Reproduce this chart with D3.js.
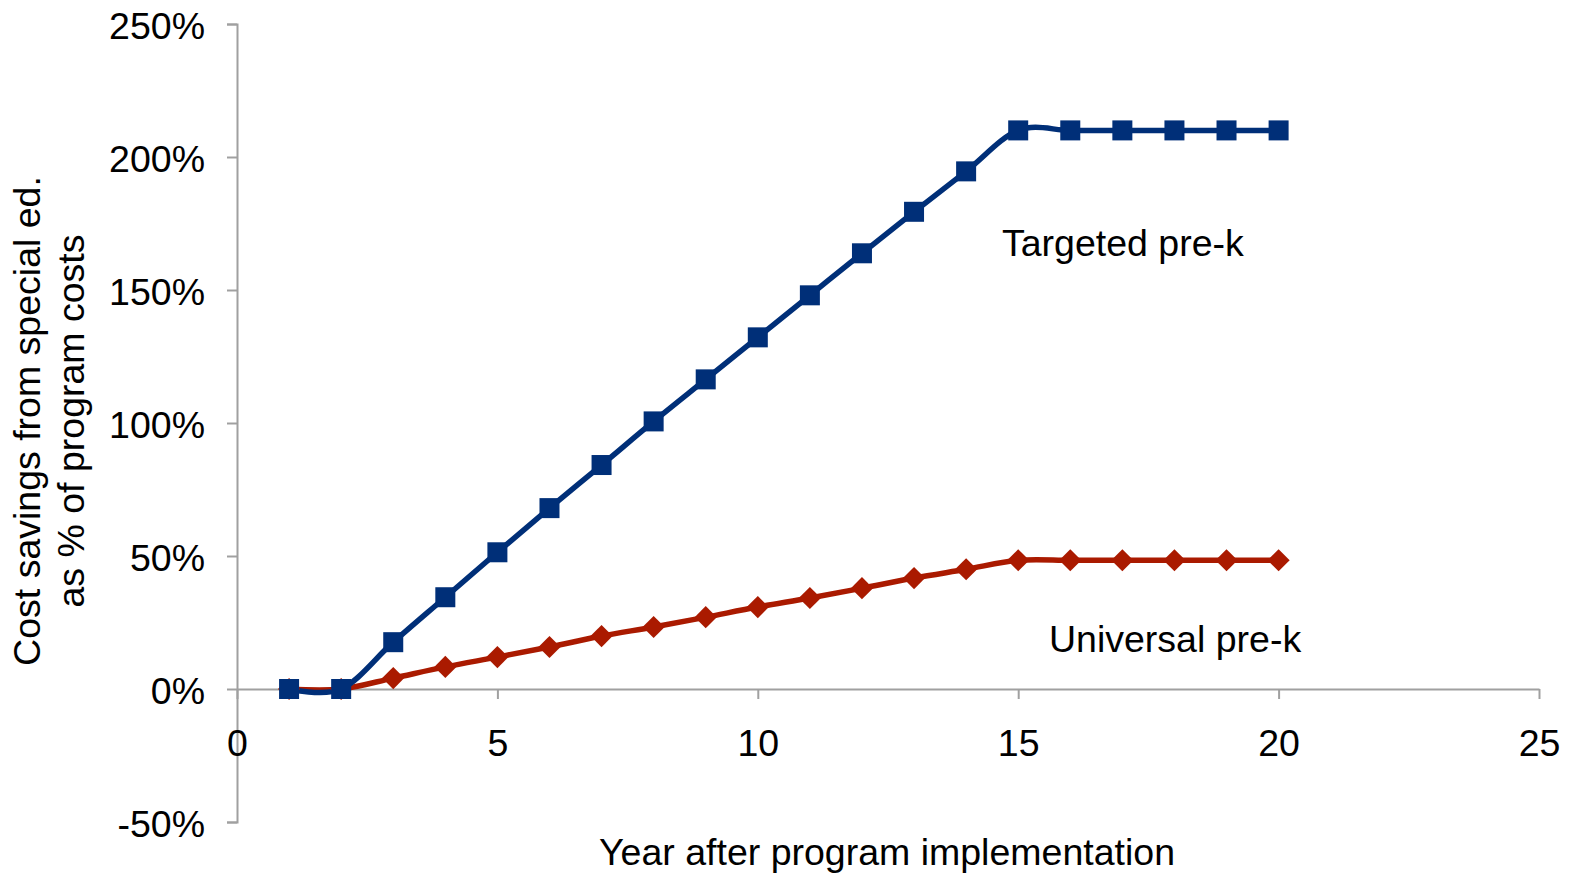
<!DOCTYPE html>
<html><head><meta charset="utf-8">
<script src="https://cdn.jsdelivr.net/npm/d3@7"></script>
<style>body{margin:0;background:#fff}</style>
</head><body>
<svg id="c" width="1570" height="874"></svg>
<script>
const years = [1,2,3,4,5,6,7,8,9,10,11,12,13,14,15,16,17,18,19,20];
const targeted = [0,0,17.6,34.5,51.4,68,84.2,100.6,116.4,132.2,148,163.8,179.4,194.6,210,210,210,210,210,210];
const universal = [0,0,4.1,8.3,12,15.8,19.9,23.3,27,30.8,34.2,37.9,41.7,45,48.4,48.4,48.4,48.4,48.4,48.4];
const xTicks = [0,5,10,15,20,25];
const yTicks = [-50,0,50,100,150,200,250];
const seriesNames = ["Targeted pre-k","Universal pre-k"];

const svg = d3.select("#c");
const font = "'Liberation Sans', Arial, sans-serif";
const fs = 37.5;
const x = d3.scaleLinear().domain([0,25]).range([237,1539]);
const y = d3.scaleLinear().domain([-50,250]).range([822,24]);
const axisColor = "#a0a0a0";

// y axis
const yAx = svg.append("g").attr("transform","translate(237,0)")
  .call(d3.axisLeft(y).tickValues(yTicks).tickSize(10).tickPadding(22).tickFormat(d=>d+"%"));
yAx.select(".domain").attr("stroke",axisColor).attr("stroke-width",2);
yAx.selectAll(".tick line").attr("stroke",axisColor).attr("stroke-width",2);
yAx.selectAll(".tick text").attr("font-family",font).attr("font-size",fs).attr("fill","#000").attr("dy","0.38em");

// x axis at y=0
const xAx = svg.append("g").attr("transform",`translate(0,${y(0)})`)
  .call(d3.axisBottom(x).tickValues(xTicks).tickSize(10).tickSizeOuter(0).tickPadding(30).tickFormat(d3.format("d")));
xAx.select(".domain").attr("stroke",axisColor).attr("stroke-width",2);
xAx.selectAll(".tick line").attr("stroke",axisColor).attr("stroke-width",2);
xAx.selectAll(".tick text").attr("font-family",font).attr("font-size",fs).attr("fill","#000");

const line = d3.line().x((d,i)=>x(years[i])).y(d=>y(d)).curve(d3.curveCardinal.tension(0));

const blue = "#002f78", red = "#aa1a00";
svg.append("path").datum(universal).attr("d",line).attr("fill","none").attr("stroke",red).attr("stroke-width",5.5);
svg.append("path").datum(targeted).attr("d",line).attr("fill","none").attr("stroke",blue).attr("stroke-width",5.5);

svg.append("g").selectAll("path").data(universal).join("path")
  .attr("d",d3.symbol(d3.symbolSquare, 245))
  .attr("transform",(d,i)=>`translate(${x(years[i])},${y(d)}) rotate(45)`)
  .attr("fill",red);
svg.append("g").selectAll("rect").data(targeted).join("rect")
  .attr("x",(d,i)=>x(years[i])-10).attr("y",d=>y(d)-10)
  .attr("width",20).attr("height",20).attr("fill",blue);

svg.append("text").attr("x",1002).attr("y",256).attr("font-family",font).attr("font-size",fs).text(seriesNames[0]);
svg.append("text").attr("x",1049).attr("y",652).attr("font-family",font).attr("font-size",fs).text(seriesNames[1]);

svg.append("text").attr("x",887).attr("y",865).attr("text-anchor","middle").attr("font-family",font).attr("font-size",fs).text("Year after program implementation");

const yt = svg.append("text").attr("transform","translate(40,421) rotate(-90)").attr("text-anchor","middle").attr("font-family",font).attr("font-size",fs);
yt.append("tspan").attr("x",0).attr("dy",0).text("Cost savings from special ed.");
yt.append("tspan").attr("x",0).attr("dy",44).text("as % of program costs");
</script>
</body></html>
